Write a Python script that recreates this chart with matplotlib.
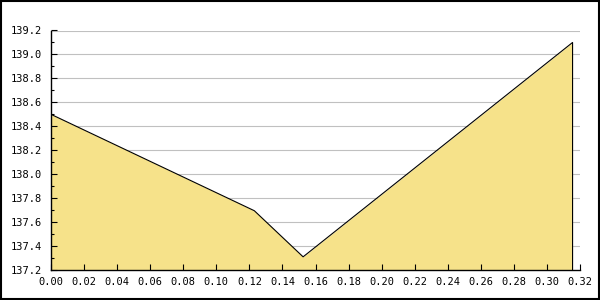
import matplotlib
matplotlib.use("Agg")
import matplotlib.pyplot as plt
from matplotlib.patches import Rectangle
from matplotlib.ticker import MultipleLocator

# values
xs = [0.0, 0.123, 0.1525, 0.3155]
ys = [138.5, 137.695, 137.31, 139.1]
ymin, ymax = 137.2, 139.2
xmax = 0.32
grid_levels = [137.4, 137.6, 137.8, 138.0, 138.2, 138.4, 138.6, 138.8, 139.0, 139.2]

FILL = "#f6e28a"

fig = plt.figure(figsize=(6, 3), dpi=100)
ax = fig.add_axes([51 / 600, 30 / 300, 529 / 600, 239.5 / 300])

for g in grid_levels:
    ax.axhline(g, color="#c0c0c0", lw=0.8, zorder=0.5)
ax.fill_between(xs, ys, ymin, color=FILL, lw=0, zorder=0.8)
ax.plot(xs + [xs[-1]], ys + [ymin], color="black", lw=0.8, zorder=3)

ax.set_xlim(0, xmax)
ax.set_ylim(ymin, ymax)
ax.xaxis.set_major_locator(MultipleLocator(0.02))
ax.yaxis.set_major_locator(MultipleLocator(0.2))
ax.yaxis.set_minor_locator(MultipleLocator(0.1))
ax.xaxis.set_major_formatter(lambda v, p: f"{v:.2f}")
ax.yaxis.set_major_formatter(lambda v, p: f"{v:.1f}")
ax.set_axisbelow(False)

for s in ("top", "right"):
    ax.spines[s].set_visible(False)
for s in ("left", "bottom"):
    ax.spines[s].set_linewidth(1.0)
    ax.spines[s].set_zorder(4)

ax.tick_params(which="major", direction="in", length=4, width=0.8,
               labelsize=7.5, labelfontfamily="DejaVu Sans Mono")
ax.tick_params(axis="y", which="major", pad=6.5)
ax.tick_params(axis="x", which="major", pad=5)
ax.tick_params(axis="y", which="minor", direction="in", length=2.2, width=0.8)

fig.add_artist(Rectangle((0.001, 0.002), 0.997, 0.995, transform=fig.transFigure,
                         fill=False, ec="black", lw=1.5))

fig.savefig("out.png", dpi=100)
